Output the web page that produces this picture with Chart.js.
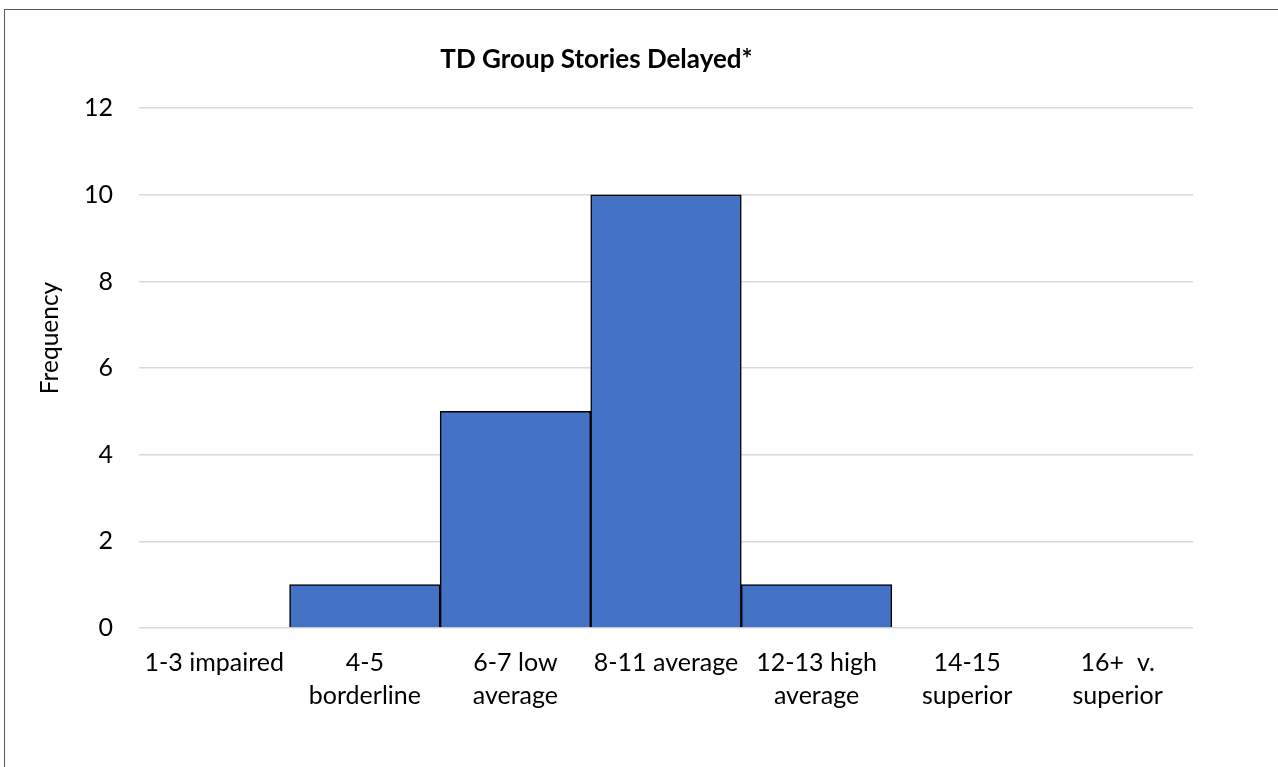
<!DOCTYPE html>
<html>
<head>
<meta charset="utf-8">
<script src="https://cdn.jsdelivr.net/npm/chart.js@4"></script>
<style>
  html, body { margin: 0; padding: 0; background: #fff; overflow: hidden; }
  #wrap { position: relative; width: 1278px; height: 767px; }
  #frame { position: absolute; left: 4px; top: 9px; width: 1400px; height: 900px;
           border-left: 1.5px solid #595959; border-top: 1.5px solid #595959; }
  canvas { position: absolute; left: 0; top: 0; }
</style>
</head>
<body>
<div id="wrap">
  <div id="frame"></div>
  <canvas id="histChart" width="1278" height="767"></canvas>
</div>
<script>
// Datos del gráfico
const categories = [
  "1-3 impaired",
  ["4-5", "borderline"],
  ["6-7 low", "average"],
  "8-11 average",
  ["12-13 high", "average"],
  ["14-15", "superior"],
  ["16+  v.", "superior"]
];
const frequency = [0, 1, 5, 10, 1, 0, 0];
const yTicks = [0, 2, 4, 6, 8, 10, 12];
const yTitle = "Frequency";

const font = "Lato, 'Open Sans', sans-serif";

// Título del eje Y (un poco por encima del centro, como en Excel)
const yTitlePlugin = {
  id: "yTitle",
  afterDraw(chart) {
    const ctx = chart.ctx;
    ctx.save();
    ctx.translate(50, 338);
    ctx.rotate(-Math.PI / 2);
    ctx.font = "24.5px " + font;
    ctx.fillStyle = "#000";
    ctx.textAlign = "center";
    ctx.textBaseline = "middle";
    ctx.fillText(yTitle, 0, 0);
    ctx.restore();
  }
};

new Chart(document.getElementById("histChart"), {
  type: "bar",
  data: {
    labels: categories,
    datasets: [{
      label: yTitle,
      data: frequency,
      backgroundColor: "#4472c4",
      borderColor: "#000",
      borderWidth: 1.5,
      categoryPercentage: 1,
      barPercentage: 1
    }]
  },
  plugins: [yTitlePlugin],
  options: {
    responsive: false,
    animation: false,
    layout: { padding: { left: 0, right: 85, top: 0, bottom: 0 } },
    plugins: {
      legend: { display: false },
      tooltip: { enabled: false },
      title: {
        display: true,
        text: "TD Group Stories Delayed*",
        color: "#000",
        font: { family: font, size: 26, weight: "bold", lineHeight: 1.2 },
        padding: { top: 44, bottom: 33 }
      }
    },
    scales: {
      x: {
        grid: { display: false, drawTicks: false },
        border: { display: false },
        ticks: {
          color: "#000",
          maxRotation: 0,
          autoSkip: false,
          padding: 18,
          font: { family: font, size: 25, lineHeight: 1.32 }
        },
        afterFit: (axis) => { axis.height = 139; }
      },
      y: {
        min: 0,
        max: 12,
        afterBuildTicks: (axis) => { axis.ticks = yTicks.map(v => ({ value: v })); },
        grid: { color: "#d9d9d9", lineWidth: 1.5, drawTicks: false },
        border: { display: false },
        ticks: {
          color: "#000",
          padding: 26,
          font: { family: font, size: 25 }
        },
        afterFit: (axis) => { axis.width = 139; }
      }
    }
  }
});
</script>
</body>
</html>
